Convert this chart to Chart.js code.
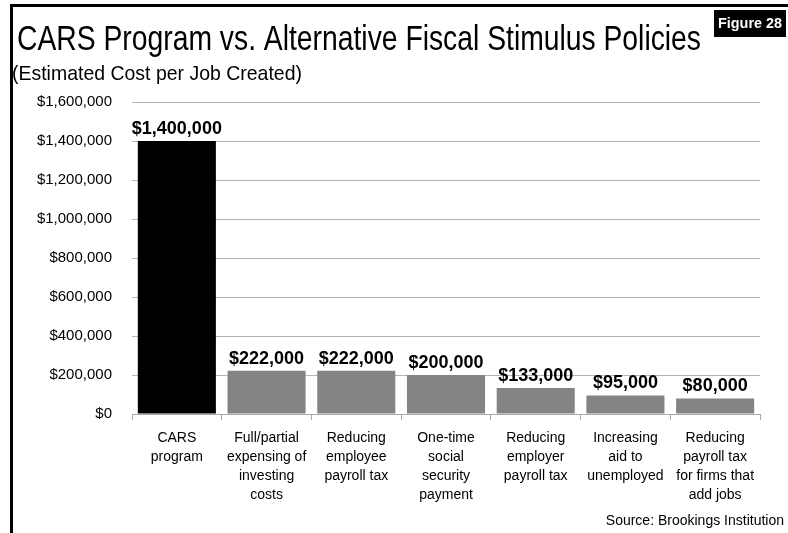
<!DOCTYPE html>
<html>
<head>
<meta charset="utf-8">
<script src="https://cdn.jsdelivr.net/npm/chart.js@4.4.1/dist/chart.umd.min.js"></script>
<style>
  html, body { margin: 0; padding: 0; background: #fff; }
  canvas { display: block; }
</style>
</head>
<body>
<canvas id="chart" width="788" height="533"></canvas>
<script>
// cost per job created, by policy
const categories = [
    ['CARS', 'program'],
    ['Full/partial', 'expensing of', 'investing', 'costs'],
    ['Reducing', 'employee', 'payroll tax'],
    ['One-time', 'social', 'security', 'payment'],
    ['Reducing', 'employer', 'payroll tax'],
    ['Increasing', 'aid to', 'unemployed'],
    ['Reducing', 'payroll tax', 'for firms that', 'add jobs']
];
const costPerJob = [1400000, 222000, 222000, 200000, 133000, 95000, 80000];
const barColors = ['#000000', '#848484', '#848484', '#848484', '#848484', '#848484', '#848484'];
const yTicks = [0, 200000, 400000, 600000, 800000, 1000000, 1200000, 1400000, 1600000];

const SANS = '"Liberation Sans", Arial, sans-serif';
const NARROW = '"Liberation Sans Narrow", "Liberation Sans", Arial, sans-serif';

const money = v => '$' + v.toLocaleString('en-US');

// frame, headings, figure tag and source line
const decorations = {
    id: 'decorations',
    beforeDraw(chart) {
        const ctx = chart.ctx;
        ctx.save();
        ctx.fillStyle = '#000';
        ctx.fillRect(10, 4, 778, 3);
        ctx.fillRect(10, 4, 3, 529);

        // figure tag
        ctx.fillRect(714, 10, 72, 27);
        ctx.fillStyle = '#fff';
        ctx.font = 'bold 15px ' + NARROW;
        ctx.textAlign = 'center';
        ctx.textBaseline = 'middle';
        ctx.fillText('Figure 28', 750, 24, 64);

        ctx.fillStyle = '#000';
        ctx.textAlign = 'left';
        ctx.textBaseline = 'alphabetic';
        ctx.font = '35px ' + NARROW;
        ctx.fillText('CARS Program vs. Alternative Fiscal Stimulus Policies', 17, 50, 684);
        ctx.font = '21px ' + NARROW;
        ctx.fillText('(Estimated Cost per Job Created)', 12, 80, 290);

        ctx.font = '14px ' + SANS;
        ctx.textAlign = 'right';
        ctx.fillText('Source: Brookings Institution', 784, 525);
        ctx.restore();
    },
    afterDatasetsDraw(chart) {
        const ctx = chart.ctx;
        const meta = chart.getDatasetMeta(0);
        ctx.save();
        ctx.fillStyle = '#000';
        ctx.font = 'bold 18px ' + SANS;
        ctx.textAlign = 'center';
        ctx.textBaseline = 'alphabetic';
        meta.data.forEach((bar, i) => {
            ctx.fillText(money(costPerJob[i]), bar.x, bar.y - 7);
        });
        ctx.restore();
    }
};

new Chart(document.getElementById('chart'), {
    type: 'bar',
    data: {
        labels: categories,
        datasets: [{
            data: costPerJob,
            backgroundColor: barColors,
            borderWidth: 0,
            barPercentage: 0.87,
            categoryPercentage: 1
        }]
    },
    options: {
        responsive: false,
        animation: false,
        events: [],
        layout: { padding: { top: 102, right: 28, bottom: 0, left: 0 } },
        plugins: {
            legend: { display: false },
            tooltip: { enabled: false }
        },
        scales: {
            x: {
                afterFit: s => { s.height = 119; },
                border: { color: '#a8a8a8', width: 1 },
                grid: { drawOnChartArea: false, color: '#a8a8a8', tickLength: 6, offset: true },
                ticks: {
                    color: '#000',
                    padding: 9,
                    maxRotation: 0,
                    autoSkip: false,
                    font: { family: SANS, size: 14, lineHeight: 1.35 }
                }
            },
            y: {
                min: 0,
                max: 1600000,
                afterFit: s => { s.width = 132; },
                afterBuildTicks: s => { s.ticks = yTicks.map(v => ({ value: v })); },
                border: { display: false },
                grid: { color: '#b4b4b4', drawTicks: false },
                ticks: {
                    color: '#000',
                    padding: 20,
                    font: { family: SANS, size: 15 },
                    callback: v => money(v)
                }
            }
        }
    },
    plugins: [decorations]
});
</script>
</body>
</html>
